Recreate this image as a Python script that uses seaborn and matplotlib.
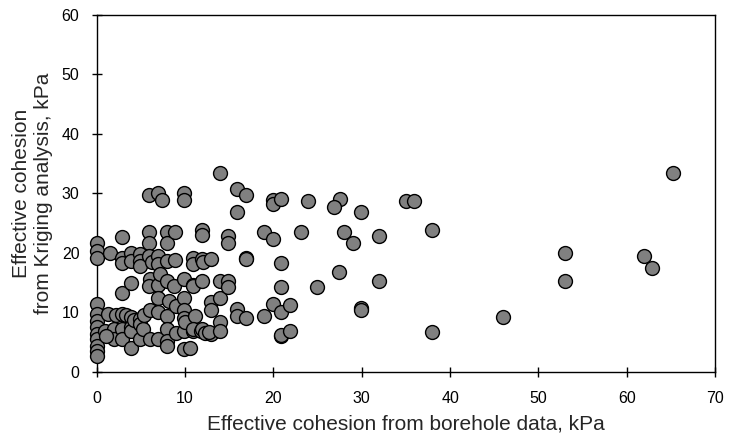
import matplotlib
matplotlib.use("Agg")
import matplotlib.pyplot as plt
import seaborn as sns
import pandas as pd

# Effective cohesion from borehole data (kPa)
borehole = [
    0, 0, 0, 0, 0, 0, 0, 0, 0, 0, 0, 0,
    1.5, 1.3, 0.9, 1.9, 1.9, 2.2, 1.0,
    2.9, 2.8, 2.9, 2.9, 2.8, 2.8, 2.8, 3.3,
    3.9, 3.9, 3.9, 3.9, 3.9, 3.9, 3.9, 4.2,
    4.9, 4.9, 4.9, 4.9, 4.9, 4.9, 5.2, 5.3,
    5.9, 5.9, 5.9, 5.9, 6.0, 5.9, 6.0, 6.0, 6.2,
    6.9, 7.4, 6.9, 6.9, 6.9, 6.9, 6.9, 6.9, 7.2,
    7.9, 7.9, 7.9, 7.9, 7.9, 7.9, 7.9, 7.9, 8.2,
    8.9, 9.0, 9.0, 8.9, 8.7,
    9.85, 9.85, 9.9, 9.9, 9.9, 9.9, 9.9, 9.9, 10.0,
    10.9, 10.9, 10.9, 10.9, 11.1, 10.9, 10.9, 10.5,
    11.9, 11.9, 11.9, 12.0, 11.9, 11.8, 11.9, 12.2,
    12.9, 12.9, 12.9, 12.9, 12.7,
    13.95, 13.95, 13.95, 13.95, 13.95,
    14.9, 14.9, 14.9, 14.9,
    15.9, 15.9, 15.9, 15.9,
    16.9, 16.9, 16.9, 16.9,
    18.9, 18.9,
    20.0, 20.0, 20.0, 20.0,
    20.9, 20.9, 20.9, 20.9, 20.9, 20.9,
    21.9, 21.9,
    23.9, 23.1, 24.9,
    27.5, 26.9, 27.95, 27.4,
    29.9, 29.0, 29.9, 29.9,
    31.9, 31.9,
    35.0, 35.9,
    38.0, 38.0,
    46.0,
    53.0, 53.0,
    62.0, 62.9, 65.2,
]

# Effective cohesion from Kriging analysis (kPa)
kriging = [
    21.7, 20.3, 19.2, 11.4, 9.7, 8.6, 7.5, 6.3, 5.5, 4.4, 3.5, 2.7,
    20.0, 9.7, 6.9, 7.3, 5.5, 9.5, 6.0,
    22.7, 19.2, 18.4, 13.3, 9.7, 7.2, 5.6, 9.5,
    20.0, 18.6, 15.0, 9.3, 7.5, 6.9, 4.1, 8.8,
    19.8, 18.6, 17.8, 8.9, 8.0, 5.5, 7.2, 9.5,
    29.8, 23.5, 21.7, 19.5, 15.6, 14.4, 10.5, 5.5, 18.5,
    30.0, 28.9, 19.5, 18.1, 14.7, 12.5, 10.0, 5.5, 16.5,
    23.5, 21.7, 18.6, 15.3, 9.4, 7.2, 5.2, 4.4, 12.0,
    23.5, 11.1, 6.6, 18.8, 14.5,
    30.0, 28.9, 15.6, 12.5, 10.5, 9.1, 6.9, 3.9, 8.4,
    19.2, 18.1, 14.7, 14.4, 9.4, 6.9, 7.2, 4.1,
    23.9, 23.1, 19.0, 18.5, 15.3, 6.9, 7.2, 6.5,
    19.0, 11.7, 10.5, 6.3, 6.7,
    33.4, 15.3, 12.5, 8.4, 6.9,
    22.8, 21.6, 15.3, 14.2,
    30.8, 26.9, 10.6, 9.4,
    29.7, 19.2, 19.0, 9.1,
    23.5, 9.4,
    28.9, 28.3, 22.3, 11.5,
    29.0, 18.4, 14.2, 10.0, 6.0, 6.2,
    11.2, 6.9,
    28.8, 23.5, 14.3,
    29.0, 27.7, 23.5, 16.8,
    26.9, 21.7, 10.7, 10.5,
    22.8, 15.3,
    28.8, 28.8,
    23.9, 6.8,
    9.2,
    20.0, 15.3,
    19.5, 17.4, 33.5,
]

x_ticks = [0, 10, 20, 30, 40, 50, 60, 70]
y_ticks = [0, 10, 20, 30, 40, 50, 60]

df = pd.DataFrame({"borehole": borehole, "kriging": kriging})

sns.set_style("ticks")
plt.rcParams["font.family"] = ["Liberation Sans", "DejaVu Sans"]

fig = plt.figure(figsize=(7.30, 4.41), dpi=100)
ax = fig.add_axes([0.1326, 0.1565, 0.9795 - 0.1326, 0.966 - 0.1565])

sns.scatterplot(data=df, x="borehole", y="kriging", ax=ax,
                s=100, color="#808080", edgecolor="black", linewidth=1.0,
                legend=False, zorder=3, clip_on=False)

ax.set_xlim(0, 70)
ax.set_ylim(0, 60)
ax.set_xticks(x_ticks)
ax.set_yticks(y_ticks)
ax.set_xticklabels([str(t) for t in x_ticks])
ax.set_yticklabels([str(t) for t in y_ticks])
ax.tick_params(direction="inout", length=7, width=1.0, labelsize=11.5,
               colors="black")
ax.tick_params(axis="x", pad=10)
ax.tick_params(axis="y", pad=9)
for sp in ax.spines.values():
    sp.set_visible(True)
    sp.set_color("black")
    sp.set_linewidth(1.0)

ax.set_xlabel("Effective cohesion from borehole data, kPa", fontsize=15, labelpad=6)
ax.set_ylabel("Effective cohesion\nfrom Kriging analysis, kPa", fontsize=15, labelpad=6)

fig.savefig("out.png", dpi=100, facecolor="white")
